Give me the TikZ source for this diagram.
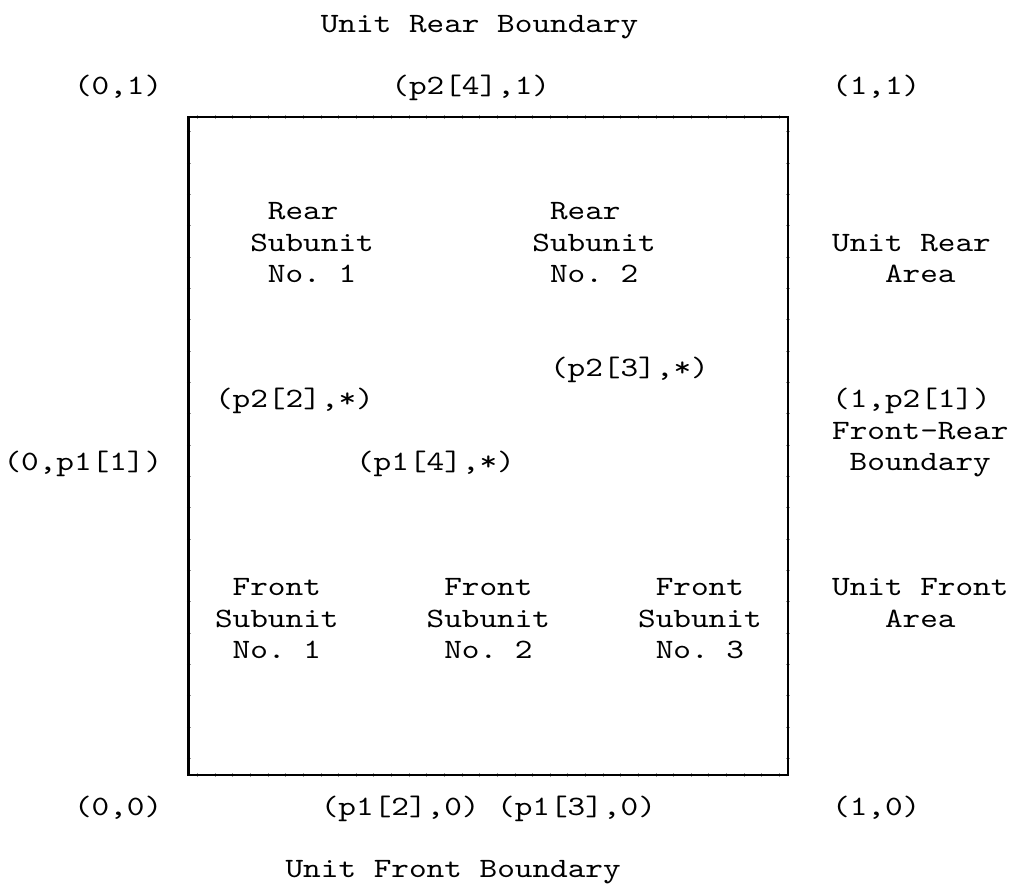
\documentclass[tikz,border=0pt]{standalone}
\usepackage{fontspec}
% typewriter face, widened so that one character cell is 17.63pt
\newfontfamily\gridfont[FakeStretch=1.2]{lmmono10-regular.otf}
\frenchspacing
\tikzset{
  cell/.style={font=\gridfont\fontsize{28}{31}\selectfont\frenchspacing,
    anchor=base west, inner sep=0pt, outer sep=0pt, text=black},
  unitbox/.style={draw=black, line width=2.7pt, inner sep=0pt, outer sep=0pt},
  joint/.style={draw=black!40, line width=0.5pt},
}
% text set on a character grid: name, column, row, text
\newcommand\tline[4]{\node[cell] (#1) at ({3.5+#2*17.63},{32+#3*31.33}) {#4};}
\begin{document}
\begin{tikzpicture}[x=1pt,y=-1pt]
\useasboundingbox (0,0) rectangle (1010,886);

% small joints where the line segments meet, under the frame
\foreach \k in {11,...,44} {
  \draw[joint] ({3.5+\k*17.63},115.0) -- ++(0,4);
  \draw[joint] ({3.5+\k*17.63},773.0) -- ++(0,4);
}
\foreach \k in {0,...,20} {
  \draw[joint] (186.6,{131.7+\k*31.33}) -- ++(4,0);
  \draw[joint] (786.0,{131.7+\k*31.33}) -- ++(4,0);
}
% the unit square
\node[unitbox, minimum width=599.42pt, minimum height=658pt] (unit) at (488.33,446) {};

% boundary labels and corner coordinates
\tline{rearbd}{18}{0}{Unit Rear Boundary}
\tline{cTL}{4}{2}{(0,1)}
\tline{cTM}{22}{2}{(p2[4],1)}
\tline{cTR}{47}{2}{(1,1)}

% rear subunits
\tline{rsa}{15}{6}{Rear}
\tline{rsb}{14}{7}{Subunit}
\tline{rsc}{15}{8}{No. 1}
\tline{rta}{31}{6}{Rear}
\tline{rtb}{30}{7}{Subunit}
\tline{rtc}{31}{8}{No. 2}
\tline{raa}{47}{7}{Unit Rear}
\tline{rab}{50}{8}{Area}

% interior split points
\tline{pA}{31}{11}{(p2[3],*)}
\tline{pB}{12}{12}{(p2[2],*)}
\tline{pC}{47}{12}{(1,p2[1])}
\tline{frA}{47}{13}{Front-Rear}
\tline{pD}{0}{14}{(0,p1[1])}
\tline{pE}{20}{14}{(p1[4],*)}
\tline{frB}{48}{14}{Boundary}

% front subunits
\tline{fsa}{13}{18}{Front}
\tline{fsb}{12}{19}{Subunit}
\tline{fsc}{13}{20}{No. 1}
\tline{fta}{25}{18}{Front}
\tline{ftb}{24}{19}{Subunit}
\tline{ftc}{25}{20}{No. 2}
\tline{fua}{37}{18}{Front}
\tline{fub}{36}{19}{Subunit}
\tline{fuc}{37}{20}{No. 3}
\tline{faa}{47}{18}{Unit Front}
\tline{fab}{50}{19}{Area}

% bottom coordinates and front boundary
\tline{cBL}{4}{25}{(0,0)}
\tline{cBA}{18}{25}{(p1[2],0)}
\tline{cBB}{28}{25}{(p1[3],0)}
\tline{cBR}{47}{25}{(1,0)}
\tline{frontbd}{16}{27}{Unit Front Boundary}
\end{tikzpicture}
\end{document}
